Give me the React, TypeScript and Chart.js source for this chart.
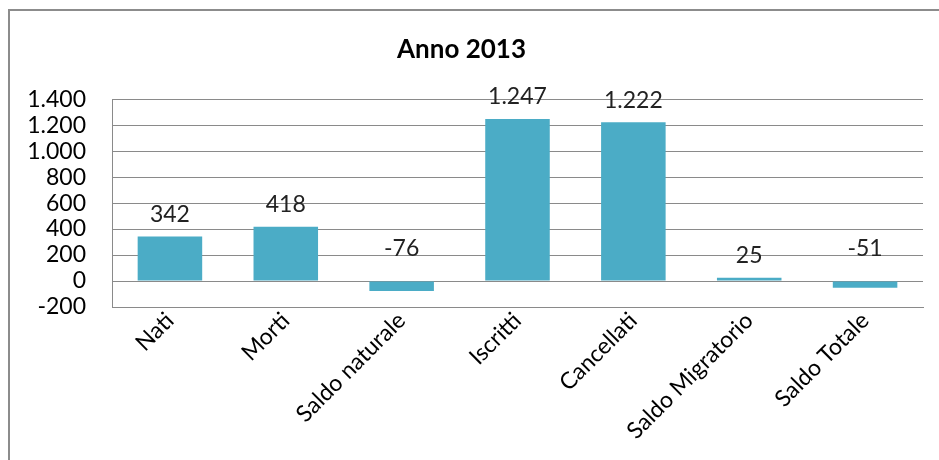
import React, { useEffect, useRef } from "react";
import { Chart, registerables } from "chart.js";

Chart.register(...registerables);

const TITLE = "Anno 2013";
const categories = [
  "Nati",
  "Morti",
  "Saldo naturale",
  "Iscritti",
  "Cancellati",
  "Saldo Migratorio",
  "Saldo Totale",
];
const values = [342, 418, -76, 1247, 1222, 25, -51];
const yMin = -200;
const yMax = 1400;
const yStep = 200;

const FONT = "Lato, 'Open Sans', sans-serif";
const GRID = "#8a8a8a";
const BAR = "#4bacc6";

function fmt(v: number): string {
  const s = Math.abs(Math.round(v)).toString().replace(/\B(?=(\d{3})+(?!\d))/g, ".");
  return (v < 0 ? "-" : "") + s;
}

const labelPlugin = {
  id: "valueLabels",
  afterDatasetsDraw(chart: any) {
    const ctx = chart.ctx;
    const meta = chart.getDatasetMeta(0);
    const yScale = chart.scales.y;
    const zero = yScale.getPixelForValue(0);
    ctx.save();
    ctx.font = `23px ${FONT}`;
    ctx.fillStyle = "#222";
    ctx.textAlign = "center";
    ctx.textBaseline = "middle";
    meta.data.forEach((bar: any, i: number) => {
      const v = values[i];
      const y = v >= 0 ? bar.y - 22 : zero - 32;
      ctx.fillText(fmt(v), bar.x, y);
    });
    ctx.restore();
  },
};

const framePlugin = {
  id: "frame",
  beforeDraw(chart: any) {
    const ctx = chart.ctx;
    ctx.save();
    ctx.fillStyle = "#ffffff";
    ctx.fillRect(0, 0, chart.width, chart.height);
    ctx.strokeStyle = "#8c8c8c";
    ctx.lineWidth = 2;
    ctx.beginPath();
    ctx.moveTo(9, chart.height + 5);
    ctx.lineTo(9, 10);
    ctx.lineTo(chart.width + 5, 10);
    ctx.stroke();
    ctx.restore();
  },
};

export default function App() {
  const ref = useRef<HTMLCanvasElement | null>(null);

  useEffect(() => {
    if (!ref.current) return;
    const chart = new Chart(ref.current, {
      type: "bar",
      data: {
        labels: categories,
        datasets: [
          {
            data: values,
            backgroundColor: BAR,
            borderWidth: 0,
            barPercentage: 0.557,
            categoryPercentage: 1,
          },
        ],
      },
      options: {
        responsive: false,
        animation: false,
        layout: { padding: { left: 0, right: 16, top: 0, bottom: 0 } },
        plugins: {
          legend: { display: false },
          tooltip: { enabled: false },
          title: {
            display: true,
            text: TITLE,
            color: "#000",
            font: { family: FONT, size: 26, weight: "bold", lineHeight: 1.2 },
            padding: { top: 34, bottom: 34 },
          },
        },
        scales: {
          x: {
            grid: { display: false, drawTicks: false },
            border: { display: true, color: GRID, width: 1 },
            ticks: {
              color: "#000",
              font: { family: FONT, size: 23 },
              maxRotation: 45,
              minRotation: 45,
              padding: 0,
              autoSkip: false,
            },
            afterFit(scale: any) {
              scale.height = 153;
            },
          },
          y: {
            min: yMin,
            max: yMax,
            grid: { color: GRID, lineWidth: 1, drawTicks: false },
            border: { display: true, color: GRID, width: 1 },
            ticks: {
              stepSize: yStep,
              autoSkip: false,
              color: "#000",
              font: { family: FONT, size: 23 },
              padding: 26,
              callback: (v: any) => fmt(Number(v)),
            },
            afterFit(scale: any) {
              scale.width = 112;
            },
          },
        },
      },
      plugins: [framePlugin, labelPlugin],
    });
    return () => chart.destroy();
  }, []);

  return (
    <div
      style={{
        position: "fixed",
        left: 0,
        top: 0,
        width: 939,
        height: 460,
        overflow: "hidden",
        background: "#fff",
      }}
    >
      <canvas ref={ref} width={939} height={460} style={{ display: "block" }} />
    </div>
  );
}
